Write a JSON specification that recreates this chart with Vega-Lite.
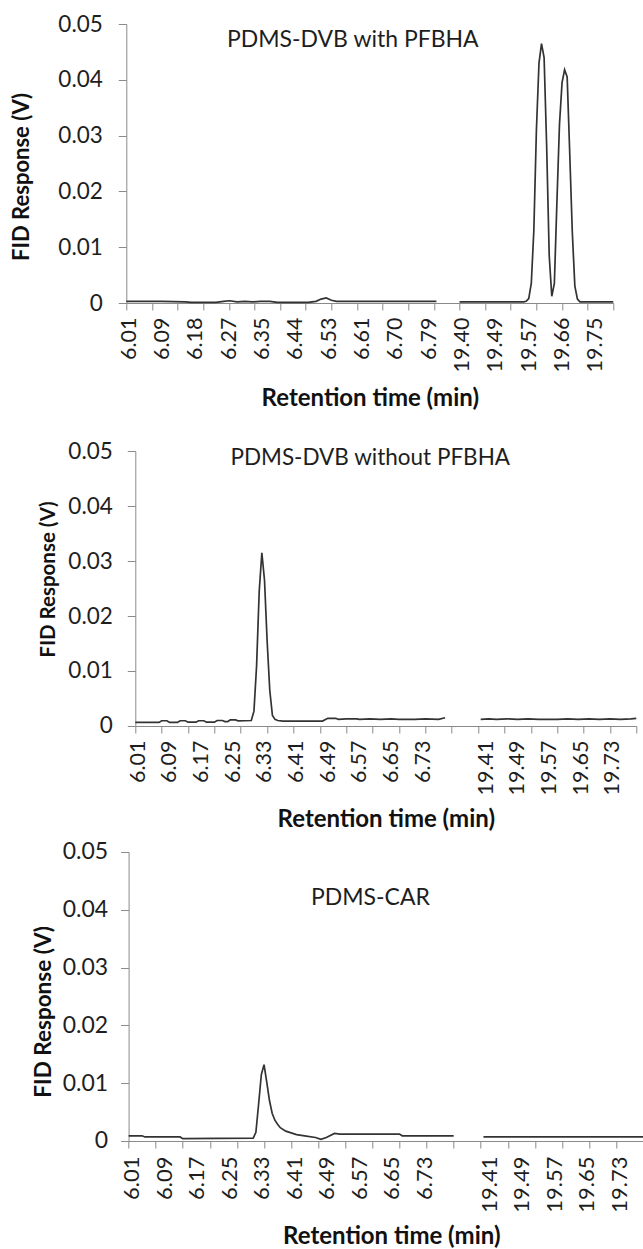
{
  "$schema": "https://vega.github.io/schema/vega-lite/v6.json",
  "padding": {"left": 10.3, "top": 13, "right": 0, "bottom": 0},
  "background": "white",
  "spacing": 9,
  "config": {
    "font": "Lato",
    "view": {"stroke": null},
    "axis": {
      "grid": false,
      "labelFont": "Lato",
      "titleFont": "Lato",
      "domainColor": "#8a8a8a",
      "tickColor": "#8a8a8a",
      "labelColor": "#1e1e1e",
      "titleColor": "#111111",
      "titleFontWeight": "bold"
    }
  },
  "vconcat": [
    {
      "width": 487,
      "height": 279,
      "layer": [
        {
          "data": {"values": [
            {"t": 6.0067, "v": 0.0003, "s": "a"}, {"t": 6.10, "v": 0.0003, "s": "a"}, {"t": 6.16, "v": 0.0002, "s": "a"},
            {"t": 6.175, "v": 0.0001, "s": "a"}, {"t": 6.24, "v": 0.0001, "s": "a"}, {"t": 6.26, "v": 0.0003, "s": "a"},
            {"t": 6.275, "v": 0.0004, "s": "a"}, {"t": 6.295, "v": 0.0002, "s": "a"}, {"t": 6.315, "v": 0.0003, "s": "a"},
            {"t": 6.335, "v": 0.0002, "s": "a"}, {"t": 6.355, "v": 0.0003, "s": "a"}, {"t": 6.38, "v": 0.0003, "s": "a"},
            {"t": 6.40, "v": 0.0001, "s": "a"}, {"t": 6.48, "v": 0.0001, "s": "a"}, {"t": 6.50, "v": 0.0003, "s": "a"},
            {"t": 6.5133, "v": 0.0007, "s": "a"}, {"t": 6.5267, "v": 0.0009, "s": "a"}, {"t": 6.54, "v": 0.0005, "s": "a"},
            {"t": 6.5533, "v": 0.0003, "s": "a"}, {"t": 6.65, "v": 0.0003, "s": "a"}, {"t": 6.75, "v": 0.0003, "s": "a"},
            {"t": 6.8133, "v": 0.0003, "s": "a"},
            {"t": 19.40, "v": 0.0002, "s": "b"}, {"t": 19.50, "v": 0.0002, "s": "b"}, {"t": 19.5667, "v": 0.0002, "s": "b"},
            {"t": 19.5733, "v": 0.0003, "s": "b"}, {"t": 19.58, "v": 0.0008, "s": "b"}, {"t": 19.5867, "v": 0.0035, "s": "b"},
            {"t": 19.5933, "v": 0.013, "s": "b"}, {"t": 19.60, "v": 0.031, "s": "b"}, {"t": 19.6067, "v": 0.043, "s": "b"},
            {"t": 19.6133, "v": 0.0465, "s": "b"}, {"t": 19.62, "v": 0.044, "s": "b"}, {"t": 19.6267, "v": 0.028, "s": "b"},
            {"t": 19.6333, "v": 0.0085, "s": "b"}, {"t": 19.64, "v": 0.0012, "s": "b"}, {"t": 19.6467, "v": 0.0035, "s": "b"},
            {"t": 19.6533, "v": 0.018, "s": "b"}, {"t": 19.66, "v": 0.032, "s": "b"}, {"t": 19.6667, "v": 0.0395, "s": "b"},
            {"t": 19.6733, "v": 0.0418, "s": "b"}, {"t": 19.68, "v": 0.0405, "s": "b"}, {"t": 19.6867, "v": 0.0268, "s": "b"},
            {"t": 19.6933, "v": 0.0128, "s": "b"}, {"t": 19.70, "v": 0.003, "s": "b"}, {"t": 19.7067, "v": 0.0007, "s": "b"},
            {"t": 19.7133, "v": 0.0002, "s": "b"}, {"t": 19.80, "v": 0.0002, "s": "b"}
          ]},
          "mark": {"type": "line", "color": "#333333", "strokeWidth": 1.7},
          "encoding": {
            "x": {
              "field": "t", "type": "quantitative",
              "scale": {"domain": [6.0067, 6.8333, 19.3733, 19.80], "range": [0, 317.83, 322.96, 487], "nice": false, "zero": false},
              "axis": {
                "orient": "bottom", "title": null, "labels": false, "ticks": true, "tickSize": 7, "domain": true,
                "values": [6.0067, 6.0733, 6.14, 6.2067, 6.2733, 6.34, 6.4067, 6.4733, 6.54, 6.6067, 6.6733, 6.74, 6.8067, 19.40, 19.4667, 19.5333, 19.60, 19.6667, 19.7333, 19.80]
              }
            },
            "y": {
              "field": "v", "type": "quantitative",
              "scale": {"domain": [0, 0.05], "nice": false, "zero": false},
              "axis": {
                "values": [0, 0.01, 0.02, 0.03, 0.04, 0.05], "format": "~g", "tickSize": 8, "labelPadding": 16, "labelFontSize": 22.5,
                "title": "FID Response (V)", "titleFontSize": 22, "titleAngle": 270, "titleBaseline": "bottom", "titleX": -92.7, "titleY": 152.5
              }
            },
            "detail": {"field": "s"}
          }
        },
        {
          "data": {"values": [{"t": 6.5958, "v": 0.0471, "label": "PDMS-DVB with PFBHA"}]},
          "mark": {"type": "text", "fontSize": 23, "color": "#1e1e1e", "align": "center", "baseline": "middle"},
          "encoding": {
            "x": {
              "field": "t", "type": "quantitative",
              "scale": {"domain": [6.0067, 6.8333, 19.3733, 19.80], "range": [0, 317.83, 322.96, 487], "nice": false, "zero": false},
              "axis": {
                "orient": "bottom", "ticks": false, "tickSize": 0, "domain": false, "labelPadding": 14,
                "values": [6.0067, 6.0933, 6.18, 6.2667, 6.3533, 6.44, 6.5267, 6.6133, 6.70, 6.7867, 19.40, 19.4867, 19.5733, 19.66, 19.7467],
                "format": ".2f", "labelAngle": 270, "labelAlign": "right", "labelBaseline": "middle", "labelFontSize": 21.5,
                "labelOverlap": false, "labelFlush": false, "labelOffset": 3,
                "title": ["Retention time (min)", ""], "titleFontSize": 24, "titleBaseline": "top", "titleY": 83.6, "titleLineHeight": 20
              }
            },
            "y": {"field": "v", "type": "quantitative", "scale": {"domain": [0, 0.05], "nice": false, "zero": false}, "axis": null},
            "text": {"field": "label"}
          }
        }
      ],
      "resolve": {"axis": {"x": "independent", "y": "independent"}}
    },
    {
      "width": 510,
      "height": 275,
      "layer": [
        {
          "data": {"values": [
            {"t": 6.01, "v": 0.00065, "s": "a"}, {"t": 6.07, "v": 0.00065, "s": "a"}, {"t": 6.0767, "v": 0.00095, "s": "a"},
            {"t": 6.09, "v": 0.00095, "s": "a"}, {"t": 6.0967, "v": 0.00065, "s": "a"}, {"t": 6.1167, "v": 0.00065, "s": "a"},
            {"t": 6.1233, "v": 0.00095, "s": "a"}, {"t": 6.1367, "v": 0.00095, "s": "a"}, {"t": 6.1433, "v": 0.0007, "s": "a"},
            {"t": 6.1633, "v": 0.0007, "s": "a"}, {"t": 6.17, "v": 0.00095, "s": "a"}, {"t": 6.1833, "v": 0.00095, "s": "a"},
            {"t": 6.19, "v": 0.0007, "s": "a"}, {"t": 6.21, "v": 0.0007, "s": "a"}, {"t": 6.2167, "v": 0.001, "s": "a"},
            {"t": 6.23, "v": 0.001, "s": "a"}, {"t": 6.2367, "v": 0.0008, "s": "a"}, {"t": 6.2433, "v": 0.0008, "s": "a"},
            {"t": 6.25, "v": 0.0011, "s": "a"}, {"t": 6.2633, "v": 0.0011, "s": "a"}, {"t": 6.27, "v": 0.00095, "s": "a"},
            {"t": 6.3033, "v": 0.001, "s": "a"}, {"t": 6.31, "v": 0.0027, "s": "a"}, {"t": 6.3167, "v": 0.011, "s": "a"},
            {"t": 6.3233, "v": 0.0245, "s": "a"}, {"t": 6.33, "v": 0.0315, "s": "a"}, {"t": 6.3367, "v": 0.0265, "s": "a"},
            {"t": 6.3433, "v": 0.0155, "s": "a"}, {"t": 6.35, "v": 0.0065, "s": "a"}, {"t": 6.3567, "v": 0.0019, "s": "a"},
            {"t": 6.3633, "v": 0.0012, "s": "a"}, {"t": 6.37, "v": 0.001, "s": "a"}, {"t": 6.3833, "v": 0.0009, "s": "a"},
            {"t": 6.4833, "v": 0.0009, "s": "a"}, {"t": 6.4967, "v": 0.0014, "s": "a"}, {"t": 6.5167, "v": 0.0014, "s": "a"},
            {"t": 6.5233, "v": 0.0012, "s": "a"}, {"t": 6.5433, "v": 0.0013, "s": "a"}, {"t": 6.57, "v": 0.0013, "s": "a"},
            {"t": 6.5767, "v": 0.0012, "s": "a"}, {"t": 6.6033, "v": 0.0013, "s": "a"}, {"t": 6.63, "v": 0.0012, "s": "a"},
            {"t": 6.6567, "v": 0.0013, "s": "a"}, {"t": 6.6767, "v": 0.0012, "s": "a"}, {"t": 6.7167, "v": 0.0012, "s": "a"},
            {"t": 6.7433, "v": 0.0013, "s": "a"}, {"t": 6.7767, "v": 0.0012, "s": "a"}, {"t": 6.7933, "v": 0.0015, "s": "a"},
            {"t": 19.4033, "v": 0.0012, "s": "b"}, {"t": 19.4233, "v": 0.0013, "s": "b"}, {"t": 19.4433, "v": 0.0012, "s": "b"},
            {"t": 19.47, "v": 0.0013, "s": "b"}, {"t": 19.4967, "v": 0.0012, "s": "b"}, {"t": 19.5233, "v": 0.0013, "s": "b"},
            {"t": 19.55, "v": 0.0012, "s": "b"}, {"t": 19.5967, "v": 0.0012, "s": "b"}, {"t": 19.6233, "v": 0.0013, "s": "b"},
            {"t": 19.65, "v": 0.0012, "s": "b"}, {"t": 19.6767, "v": 0.0013, "s": "b"}, {"t": 19.7033, "v": 0.0012, "s": "b"},
            {"t": 19.73, "v": 0.0013, "s": "b"}, {"t": 19.7567, "v": 0.0012, "s": "b"}, {"t": 19.7833, "v": 0.0013, "s": "b"},
            {"t": 19.7967, "v": 0.0014, "s": "b"}
          ]},
          "mark": {"type": "line", "color": "#333333", "strokeWidth": 1.7},
          "encoding": {
            "x": {
              "field": "t", "type": "quantitative",
              "scale": {"domain": [6.01, 6.8367, 19.37, 19.7967], "range": [9, 335.97, 341.24, 510], "nice": false, "zero": false},
              "axis": {
                "orient": "bottom", "title": null, "labels": false, "ticks": true, "tickSize": 7, "domain": true,
                "values": [6.01, 6.0767, 6.1433, 6.21, 6.2767, 6.3433, 6.41, 6.4767, 6.5433, 6.61, 6.6767, 6.7433, 6.81, 19.3967, 19.4633, 19.53, 19.5967, 19.6633, 19.73, 19.7967]
              }
            },
            "y": {
              "field": "v", "type": "quantitative",
              "scale": {"domain": [0, 0.05], "nice": false, "zero": false},
              "axis": {
                "offset": -9, "values": [0, 0.01, 0.02, 0.03, 0.04, 0.05], "format": "~g", "tickSize": 8, "labelPadding": 15, "labelFontSize": 22.5,
                "title": "FID Response (V)", "titleFontSize": 20.5, "titleAngle": 270, "titleBaseline": "bottom", "titleX": -77, "titleY": 128
              }
            },
            "detail": {"field": "s"}
          }
        },
        {
          "data": {"values": [{"t": 6.604, "v": 0.0488, "label": "PDMS-DVB without PFBHA"}]},
          "mark": {"type": "text", "fontSize": 22.5, "color": "#1e1e1e", "align": "center", "baseline": "middle"},
          "encoding": {
            "x": {
              "field": "t", "type": "quantitative",
              "scale": {"domain": [6.01, 6.8367, 19.37, 19.7967], "range": [9, 335.97, 341.24, 510], "nice": false, "zero": false},
              "axis": {
                "orient": "bottom", "ticks": false, "tickSize": 0, "domain": false, "labelPadding": 14,
                "values": [6.01, 6.09, 6.17, 6.25, 6.33, 6.41, 6.49, 6.57, 6.65, 6.73, 19.41, 19.49, 19.57, 19.65, 19.73],
                "format": ".2f", "labelAngle": 270, "labelAlign": "right", "labelBaseline": "middle", "labelFontSize": 21.5,
                "labelOverlap": false, "labelFlush": false, "labelOffset": 3,
                "title": "Retention time (min)", "titleFontSize": 24, "titleBaseline": "top", "titleY": 81.6
              }
            },
            "y": {"field": "v", "type": "quantitative", "scale": {"domain": [0, 0.05], "nice": false, "zero": false}, "axis": null},
            "text": {"field": "label"}
          }
        }
      ],
      "resolve": {"axis": {"x": "independent", "y": "independent"}}
    },
    {
      "width": 517,
      "height": 289,
      "layer": [
        {
          "data": {"values": [
            {"t": 6.01, "v": 0.0009, "s": "a"}, {"t": 6.0433, "v": 0.0009, "s": "a"}, {"t": 6.05, "v": 0.0007, "s": "a"},
            {"t": 6.1367, "v": 0.0007, "s": "a"}, {"t": 6.1433, "v": 0.0004, "s": "a"}, {"t": 6.3167, "v": 0.0005, "s": "a"},
            {"t": 6.3233, "v": 0.0015, "s": "a"}, {"t": 6.33, "v": 0.0064, "s": "a"}, {"t": 6.3367, "v": 0.0115, "s": "a"},
            {"t": 6.3433, "v": 0.0132, "s": "a"}, {"t": 6.35, "v": 0.0102, "s": "a"}, {"t": 6.3567, "v": 0.007, "s": "a"},
            {"t": 6.3633, "v": 0.0048, "s": "a"}, {"t": 6.37, "v": 0.0036, "s": "a"}, {"t": 6.3767, "v": 0.0029, "s": "a"},
            {"t": 6.3833, "v": 0.0023, "s": "a"}, {"t": 6.3967, "v": 0.0017, "s": "a"}, {"t": 6.41, "v": 0.0014, "s": "a"},
            {"t": 6.4233, "v": 0.0011, "s": "a"}, {"t": 6.4433, "v": 0.0009, "s": "a"}, {"t": 6.47, "v": 0.0006, "s": "a"},
            {"t": 6.4833, "v": 0.0003, "s": "a"}, {"t": 6.4967, "v": 0.0006, "s": "a"}, {"t": 6.5167, "v": 0.0013, "s": "a"},
            {"t": 6.53, "v": 0.0012, "s": "a"}, {"t": 6.6767, "v": 0.0012, "s": "a"}, {"t": 6.6833, "v": 0.0009, "s": "a"},
            {"t": 6.81, "v": 0.0009, "s": "a"},
            {"t": 19.4033, "v": 0.0007, "s": "b"}, {"t": 19.7967, "v": 0.0007, "s": "b"}
          ]},
          "mark": {"type": "line", "color": "#333333", "strokeWidth": 1.7},
          "encoding": {
            "x": {
              "field": "t", "type": "quantitative",
              "scale": {"domain": [6.01, 6.8367, 19.37, 19.7967], "range": [2.3, 338.21, 343.63, 517], "nice": false, "zero": false},
              "axis": {
                "orient": "bottom", "title": null, "labels": false, "ticks": true, "tickSize": 7, "domain": true,
                "values": [6.01, 6.0767, 6.1433, 6.21, 6.2767, 6.3433, 6.41, 6.4767, 6.5433, 6.61, 6.6767, 6.7433, 6.81, 19.3967, 19.4633, 19.53, 19.5967, 19.6633, 19.73, 19.7967]
              }
            },
            "y": {
              "field": "v", "type": "quantitative",
              "scale": {"domain": [0, 0.05], "nice": false, "zero": false},
              "axis": {
                "offset": -2.3, "values": [0, 0.01, 0.02, 0.03, 0.04, 0.05], "format": "~g", "tickSize": 8, "labelPadding": 13, "labelFontSize": 23,
                "title": "FID Response (V)", "titleFontSize": 22.5, "titleAngle": 270, "titleBaseline": "bottom", "titleX": -73.3, "titleY": 159.3
              }
            },
            "detail": {"field": "s"}
          }
        },
        {
          "data": {"values": [{"t": 6.605, "v": 0.042, "label": "PDMS-CAR"}]},
          "mark": {"type": "text", "fontSize": 23, "color": "#1e1e1e", "align": "center", "baseline": "middle"},
          "encoding": {
            "x": {
              "field": "t", "type": "quantitative",
              "scale": {"domain": [6.01, 6.8367, 19.37, 19.7967], "range": [2.3, 338.21, 343.63, 517], "nice": false, "zero": false},
              "axis": {
                "orient": "bottom", "ticks": false, "tickSize": 0, "domain": false, "labelPadding": 15,
                "values": [6.01, 6.09, 6.17, 6.25, 6.33, 6.41, 6.49, 6.57, 6.65, 6.73, 19.41, 19.49, 19.57, 19.65, 19.73],
                "format": ".2f", "labelAngle": 270, "labelAlign": "right", "labelBaseline": "middle", "labelFontSize": 22,
                "labelOverlap": false, "labelFlush": false, "labelOffset": 3,
                "title": "Retention time (min)", "titleFontSize": 24, "titleBaseline": "top", "titleY": 84, "titleX": 265
              }
            },
            "y": {"field": "v", "type": "quantitative", "scale": {"domain": [0, 0.05], "nice": false, "zero": false}, "axis": null},
            "text": {"field": "label"}
          }
        }
      ],
      "resolve": {"axis": {"x": "independent", "y": "independent"}}
    }
  ]
}
